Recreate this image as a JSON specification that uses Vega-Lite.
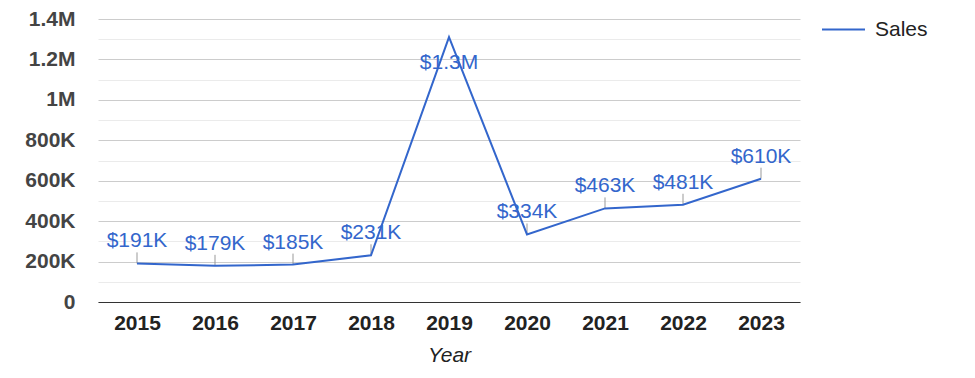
{
  "$schema": "https://vega.github.io/schema/vega-lite/v6.json",
  "width": 702,
  "height": 283,
  "autosize": {"type": "none"},
  "padding": {"left": 98, "top": 19, "right": 175, "bottom": 76},
  "background": "white",
  "config": {
    "view": {"stroke": null},
    "font": "Liberation Sans"
  },
  "data": {
    "values": [
      {"Year": "2015", "Sales": 191000, "Label": "$191K"},
      {"Year": "2016", "Sales": 179000, "Label": "$179K"},
      {"Year": "2017", "Sales": 185000, "Label": "$185K"},
      {"Year": "2018", "Sales": 231000, "Label": "$231K"},
      {"Year": "2019", "Sales": 1310000, "Label": "$1.3M"},
      {"Year": "2020", "Sales": 334000, "Label": "$334K"},
      {"Year": "2021", "Sales": 463000, "Label": "$463K"},
      {"Year": "2022", "Sales": 481000, "Label": "$481K"},
      {"Year": "2023", "Sales": 610000, "Label": "$610K"}
    ]
  },
  "encoding": {
    "x": {
      "field": "Year",
      "type": "ordinal",
      "scale": {"type": "point", "padding": 0.5},
      "axis": {
        "title": "Year",
        "labelAngle": 0,
        "labelFont": "Liberation Sans",
        "labelFontSize": 21,
        "labelFontWeight": "bold",
        "labelColor": "#222222",
        "labelPadding": 10,
        "ticks": false,
        "domainColor": "#333333",
        "domainWidth": 1,
        "grid": false,
        "titleFont": "Liberation Sans",
        "titleFontSize": 21,
        "titleFontStyle": "italic",
        "titleFontWeight": "normal",
        "titleColor": "#222222",
        "titlePadding": 11
      }
    },
    "y": {
      "field": "Sales",
      "type": "quantitative",
      "scale": {"domain": [0, 1400000], "nice": false},
      "axis": {
        "title": null,
        "values": [0, 100000, 200000, 300000, 400000, 500000, 600000, 700000, 800000, 900000, 1000000, 1100000, 1200000, 1300000, 1400000],
        "labelExpr": "datum.value % 200000 != 0 ? '' : datum.value == 0 ? '0' : datum.value >= 1000000 ? format(datum.value / 1000000, '~g') + 'M' : format(datum.value / 1000, '~g') + 'K'",
        "labelFont": "Liberation Sans",
        "labelFontSize": 21,
        "labelFontWeight": "bold",
        "labelColor": "#444444",
        "labelPadding": 23,
        "domain": false,
        "ticks": false,
        "grid": true,
        "gridColor": {"condition": {"test": "datum.value % 200000 == 0", "value": "#cccccc"}, "value": "#ebebeb"},
        "gridWidth": 1
      }
    }
  },
  "layer": [
    {
      "transform": [{"filter": "datum.Year != '2019'"}],
      "mark": {"type": "rule", "color": "#999999", "strokeWidth": 1, "y2Offset": -11},
      "encoding": {
        "y2": {"field": "Sales"}
      }
    },
    {
      "mark": {"type": "line", "strokeWidth": 2},
      "encoding": {
        "color": {
          "datum": "Sales",
          "type": "nominal",
          "scale": {"range": ["#3366cc"]},
          "legend": {
            "title": null,
            "orient": "none",
            "legendX": 723,
            "legendY": -12,
            "symbolType": "stroke",
            "symbolSize": 1849,
            "symbolStrokeWidth": 2,
            "labelFont": "Liberation Sans",
            "labelFontSize": 21,
            "labelColor": "#222222",
            "labelOffset": 9,
            "padding": 0
          }
        }
      }
    },
    {
      "transform": [{"filter": "datum.Year != '2019'"}],
      "mark": {"type": "text", "color": "#3366cc", "fontSize": 21, "font": "Liberation Sans", "baseline": "alphabetic", "dy": -16},
      "encoding": {"text": {"field": "Label"}}
    },
    {
      "transform": [{"filter": "datum.Year == '2019'"}],
      "mark": {"type": "text", "color": "#3366cc", "fontSize": 21, "font": "Liberation Sans", "baseline": "alphabetic", "dy": 32},
      "encoding": {"text": {"field": "Label"}}
    }
  ]
}
